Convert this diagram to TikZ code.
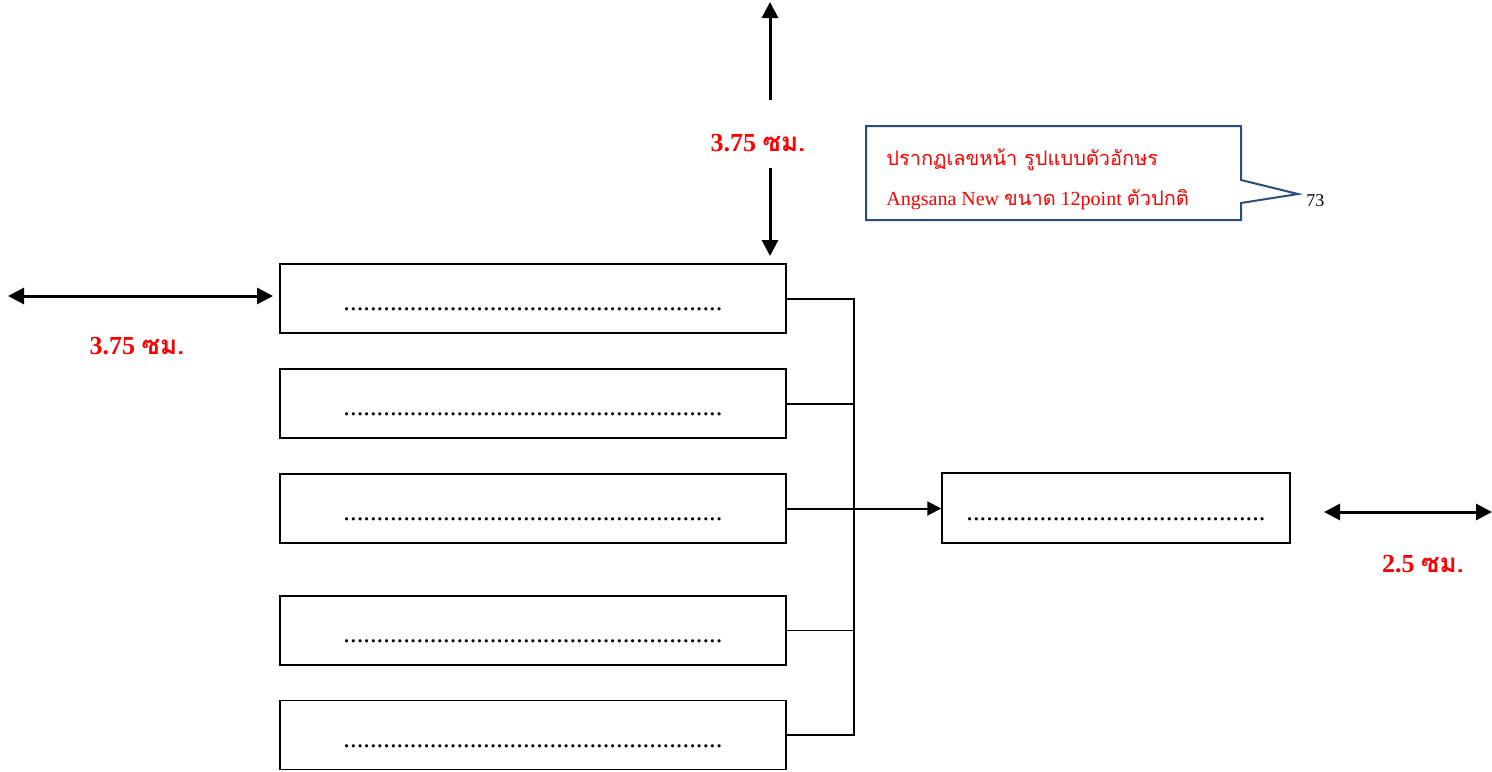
\documentclass[tikz,border=0pt]{standalone}
\usepackage{fontspec}
\setmainfont{Liberation Serif}
\newfontfamily\thai[Script=Thai]{Loma}
\usetikzlibrary{arrows.meta}
\definecolor{callblue}{RGB}{42,79,122}
\definecolor{lblred}{RGB}{255,0,0}
\begin{document}
\begin{tikzpicture}[x=0.5pt,y=-0.5pt,
  box/.style={draw, line width=0.75pt, minimum width=253pt, minimum height=34.5pt, inner sep=0pt},
  rbox/.style={draw, line width=0.75pt, minimum width=174pt, minimum height=35pt, inner sep=0pt},
  dotrow/.style={inner sep=0pt, font=\fontsize{13.3}{14}\selectfont},
  dimarrow/.style={line width=1.5pt, -{Triangle[length=8pt,width=8pt]}},
  dimboth/.style={line width=1.5pt, {Triangle[length=8pt,width=8pt]}-{Triangle[length=8pt,width=8pt]}},
  conn/.style={line width=1pt},
  lbl/.style={text=lblred, inner sep=0pt, anchor=base, font=\fontsize{13}{15}\selectfont\bfseries},
  calltext/.style={text=lblred, inner sep=0pt, anchor=base west, font=\fontsize{10}{12}\selectfont}]
\useasboundingbox (0,0) rectangle (1492,771);

% left boxes
\node[box] (b1) at (533,298.5) {};
\node[box] (b2) at (533,403.5) {};
\node[box] (b3) at (533,508.5) {};
\node[box] (b4) at (533,630.5) {};
\node[box] (b5) at (533,735) {};
\node[rbox] (r) at (1116,508) {};

% dotted text rows
\node[dotrow] (d1) at ([yshift=-5.5pt]b1.center) {.........................................................};
\node[dotrow] (d2) at ([yshift=-5.5pt]b2.center) {.........................................................};
\node[dotrow] (d3) at ([yshift=-5.5pt]b3.center) {.........................................................};
\node[dotrow] (d4) at ([yshift=-5.5pt]b4.center) {.........................................................};
\node[dotrow] (d5) at ([yshift=-5.5pt]b5.center) {.........................................................};
\node[dotrow] (dr) at ([yshift=-5.5pt]r.center) {.............................................};

% connectors
\coordinate (jb) at (854,735);
\draw[conn] (b1.east) -| (jb) -- (b5.east);
\draw[conn] (b2.east) -- (b2.east -| jb);
\draw[line width=0.6pt] (b4.east) -- (b4.east -| jb);
\draw[conn, -{Triangle[length=7pt,width=7pt]}] (b3.east) -- (b3.east -| r.west);

% top dimension
\coordinate (t1) at (770,2);
\coordinate (t2) at (770,100);
\coordinate (t3) at (770,168);
\coordinate (t4) at (770,256);
\draw[dimarrow] (t2) -- (t1);
\draw[dimarrow] (t3) -- (t4);
\node[lbl] (lt) at (758,151) {3.75 {\thai\bfseries ซม.}};

% left dimension
\coordinate (l1) at (8,296);
\coordinate (l2) at (273,296);
\draw[dimboth] (l1) -- (l2);
\node[lbl] (ll) at (137,354) {3.75 {\thai\bfseries ซม.}};

% right dimension
\coordinate (q1) at (1324,512);
\coordinate (q2) at (1492,512);
\draw[dimboth] (q1) -- (q2);
\node[lbl] (lr) at (1423,572) {2.5 {\thai\bfseries ซม.}};

% callout
\draw[callblue, line width=1pt, fill=white] (866,126) -- (1241,126) -- (1241,180) -- (1298,194) -- (1241,203) -- (1241,220) -- (866,220) -- cycle;
\node[calltext] (c1) at (886,165) {\thai ปรากฏเลขหน้า รูปแบบตัวอักษร};
\node[calltext] (c2) at (886,205) {Angsana New {\thai ขนาด} 12point {\thai ตัวปกติ}};
\node[inner sep=0pt, anchor=base west, font=\fontsize{9}{11}\selectfont] (n73) at (1306,206) {73};
\end{tikzpicture}
\end{document}
